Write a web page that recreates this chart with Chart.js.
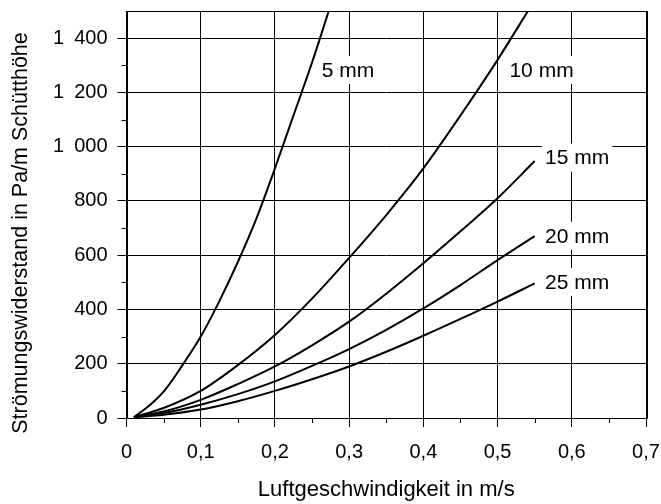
<!DOCTYPE html>
<html>
<head>
<meta charset="utf-8">
<script src="https://cdn.jsdelivr.net/npm/chart.js@4"></script>
<style>
  html, body { margin: 0; padding: 0; background: #fff; }
  canvas { display: block; }
</style>
</head>
<body>
<canvas id="myChart" width="661" height="504"></canvas>
<script>
// grain size curves (speed in m/s, resistance in Pa/m)
var speed5 = [0.01, 0.03, 0.05, 0.075, 0.1, 0.125, 0.15, 0.175, 0.2, 0.225, 0.25, 0.2725];
var res5 = [3, 44, 97, 193, 300, 430, 575, 735, 920, 1115, 1310, 1500];
var speed10 = [0.01, 0.05, 0.1, 0.15, 0.2, 0.25, 0.3, 0.35, 0.4, 0.45, 0.5, 0.541];
var res10 = [3, 37, 100, 195, 306, 440, 590, 748, 920, 1115, 1320, 1500];
var speedN = [0.01, 0.05, 0.1, 0.15, 0.2, 0.25, 0.3, 0.35, 0.4, 0.45, 0.5, 0.55];
var res15 = [3, 24, 67, 125, 190, 268, 355, 458, 570, 688, 810, 947];
var res20 = [3, 18, 49, 88, 135, 192, 254, 325, 404, 490, 582, 670];
var res25 = [3, 12, 31, 62, 100, 143, 190, 244, 303, 365, 429, 496];

var curveNames = ['5 mm', '10 mm', '15 mm', '20 mm', '25 mm'];
// where each curve name sits (in data units)
var nameSpeed = [0.263, 0.516, 0.564, 0.564, 0.564];
var nameRes = [1279, 1279, 956, 668, 498];

var xTicks = [0, 0.1, 0.2, 0.3, 0.4, 0.5, 0.6, 0.7];
var xMinor = [0.05, 0.15, 0.25, 0.35, 0.45, 0.55, 0.65];
var yTicks = [0, 200, 400, 600, 800, 1000, 1200, 1400];
var yMinor = [100, 300, 500, 700, 900, 1100, 1300];

var FONT = "'Liberation Sans', Arial, sans-serif";
Chart.defaults.font.family = FONT;
Chart.defaults.color = '#000';

function pts(xs, ys) {
    return xs.map(function (x, i) { return {x: x, y: ys[i]}; });
}

function fmtY(v) {
    if (v >= 1000) {
        return Math.floor(v / 1000) + '\u2002' + String(v % 1000).padStart(3, '0');
    }
    return String(v);
}

function noPad(s) {
    s.paddingTop = 0; s.paddingBottom = 0; s.paddingLeft = 0; s.paddingRight = 0;
}

var extras = {
    id: 'extras',
    afterDatasetsDraw: function (chart) {
        var ctx = chart.ctx, a = chart.chartArea;
        var xs = chart.scales.x, ys = chart.scales.y;
        ctx.save();
        // frame
        ctx.strokeStyle = '#000';
        ctx.lineWidth = 1;
        ctx.strokeRect(Math.round(a.left) + 0.5, Math.round(a.top) + 0.5,
            Math.round(a.right - a.left), Math.round(a.bottom - a.top));
        // minor ticks
        ctx.beginPath();
        xMinor.forEach(function (v) {
            var px = Math.round(xs.getPixelForValue(v)) + 0.5;
            ctx.moveTo(px, a.bottom);
            ctx.lineTo(px, a.bottom + 5);
        });
        yMinor.forEach(function (v) {
            var py = Math.round(ys.getPixelForValue(v)) + 0.5;
            ctx.moveTo(a.left, py);
            ctx.lineTo(a.left - 5, py);
        });
        ctx.stroke();
        // curve names on white boxes
        ctx.font = '21px ' + FONT;
        ctx.textAlign = 'left';
        ctx.textBaseline = 'middle';
        curveNames.forEach(function (t, i) {
            var px = xs.getPixelForValue(nameSpeed[i]);
            var py = ys.getPixelForValue(nameRes[i]);
            var w = ctx.measureText(t).width;
            ctx.fillStyle = '#fff';
            ctx.fillRect(px - 3, py - 15, w + 6, 28);
            ctx.fillStyle = '#000';
            ctx.fillText(t, px, py);
        });
        ctx.restore();
    },
    afterDraw: function (chart) {
        var ctx = chart.ctx;
        ctx.save();
        ctx.translate(21, 233);
        ctx.rotate(-Math.PI / 2);
        ctx.font = '21.5px ' + FONT;
        ctx.fillStyle = '#000';
        ctx.textAlign = 'center';
        ctx.textBaseline = 'middle';
        ctx.fillText('Strömungswiderstand in Pa/m Schütthöhe', 0, 0);
        ctx.restore();
    }
};

var line = {
    borderColor: '#000',
    borderWidth: 2,
    pointRadius: 0,
    fill: false,
    showLine: true,
    cubicInterpolationMode: 'monotone'
};

var ctx = document.getElementById('myChart').getContext('2d');
var chart = new Chart(ctx, {
    type: 'scatter',
    data: {
        datasets: [
            Object.assign({label: '5 mm', data: pts(speed5, res5)}, line),
            Object.assign({label: '10 mm', data: pts(speed10, res10)}, line),
            Object.assign({label: '15 mm', data: pts(speedN, res15)}, line),
            Object.assign({label: '20 mm', data: pts(speedN, res20)}, line),
            Object.assign({label: '25 mm', data: pts(speedN, res25)}, line)
        ]
    },
    options: {
        responsive: false,
        animation: false,
        devicePixelRatio: 1,
        layout: {padding: {top: 11, right: 15, left: 0, bottom: 0}},
        plugins: {legend: {display: false}, tooltip: {enabled: false}},
        scales: {
            x: {
                type: 'linear',
                min: 0,
                max: 0.7,
                afterBuildTicks: function (s) { s.ticks = xTicks.map(function (v) { return {value: v}; }); },
                afterFit: function (s) { s.height = 86; noPad(s); },
                grid: {color: '#000', lineWidth: 1, tickLength: 9, tickColor: '#000'},
                border: {color: '#000', width: 1},
                ticks: {
                    font: {size: 20},
                    color: '#000',
                    padding: 13,
                    maxRotation: 0,
                    callback: function (v) { return v === 0 ? '0' : v.toFixed(1).replace('.', ','); }
                },
                title: {
                    display: true,
                    text: 'Luftgeschwindigkeit in m/s',
                    font: {size: 22},
                    color: '#000',
                    padding: {top: 0, bottom: 1}
                }
            },
            y: {
                min: 0,
                max: 1500,
                afterBuildTicks: function (s) { s.ticks = yTicks.map(function (v) { return {value: v}; }); },
                afterFit: function (s) { s.width = 126.5; noPad(s); },
                grid: {color: '#000', lineWidth: 1, tickLength: 9, tickColor: '#000'},
                border: {color: '#000', width: 1},
                ticks: {
                    font: {size: 20},
                    color: '#000',
                    padding: 10,
                    callback: function (v) { return fmtY(v); }
                }
            }
        }
    },
    plugins: [extras]
});
</script>
</body>
</html>
